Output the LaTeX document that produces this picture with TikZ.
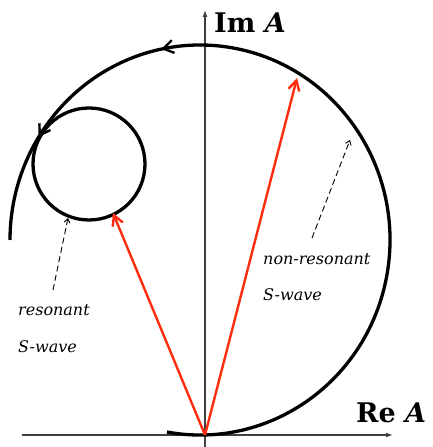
\documentclass[tikz,border=0pt]{standalone}
\usepackage{fontspec}
\setmainfont{DejaVu Serif}
\usetikzlibrary{arrows.meta,decorations.markings,calc}
\definecolor{vecred}{RGB}{255,45,15}
\tikzset{
  axis/.style={line width=1.3pt,color=black!75,-{Latex[length=7pt,width=5pt]}},
  curve/.style={line width=3.3pt,line cap=butt},
  vec/.style={line width=2.4pt,color=vecred,-{Straight Barb[length=10pt,width=11pt,line width=2.4pt]}},
  pointer/.style={line width=0.9pt,dash pattern=on 6pt off 3.5pt,-{Straight Barb[length=4pt,width=6pt]}},
  lbl/.style={font=\itshape\fontsize{16}{19}\selectfont,anchor=west,inner sep=0pt},
  axlbl/.style={font=\bfseries\fontsize{27}{30}\selectfont,anchor=west,inner sep=0pt},
  midarrow/.style={postaction={decorate},decoration={markings,
     mark=at position 0.72 with {\arrow{Straight Barb[length=10pt,width=13pt,line width=2.4pt]}},
     mark=at position 0.885 with {\arrow{Straight Barb[length=10pt,width=13pt,line width=2.4pt]}}}}
}
\begin{document}
\begin{tikzpicture}[x=1pt,y=1pt]
\useasboundingbox (0,0) rectangle (432,447);
\coordinate (O) at (205,12);
\coordinate (xend) at (393,12);
\coordinate (xbeg) at (22,12);
\coordinate (yend) at (205,437);
\coordinate (ybeg) at (205,0);
\coordinate (C) at (200,207);
\coordinate (c) at (89,283);
% axes
\draw[axis] (xbeg) -- (xend);
\draw[axis] (ybeg) -- (yend);
% big curve
\draw[curve,midarrow] ($(C)+(-100:190 and 195)$) arc[start angle=-100,end angle=180,x radius=190,y radius=195];
% small circle
\draw[curve] (c) circle[radius=56];
% vectors
\coordinate (p1) at (113,234);
\coordinate (p2) at (297,369);
\draw[vec] (O) -- (p1);
\draw[vec] (O) -- (p2);
% pointers
\coordinate (d1s) at (53,157);
\coordinate (d1e) at (68,229);
\coordinate (d2s) at (312,209);
\coordinate (d2e) at (350,307);
\draw[pointer] (d1s) -- (d1e);
\draw[pointer] (d2s) -- (d2e);
% labels
\node[lbl] (res1) at (18,137) {resonant};
\node[lbl] (res2) at (18,100) {S-wave};
\node[lbl] (non1) at (263,188) {non-resonant};
\node[lbl] (non2) at (263,152) {S-wave};
\node[axlbl] (im) at (214,424) {Im \textit{A}};
\node[axlbl] (re) at (356,34) {Re \textit{A}};
\end{tikzpicture}
\end{document}
